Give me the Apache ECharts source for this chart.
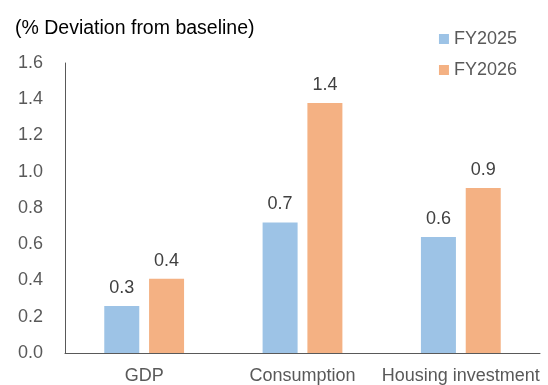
<!DOCTYPE html>
<html>
<head>
<meta charset="utf-8">
<script src="https://cdn.jsdelivr.net/npm/echarts@6/dist/echarts.min.js"></script>
<style>
html,body{margin:0;padding:0;background:#fff;}
#main{width:548px;height:385px;}
</style>
</head>
<body>
<div id="main"></div>
<script>
var categories = ['GDP', 'Consumption', 'Housing investment'];
var fy2025 = [0.26, 0.72, 0.64];
var fy2026 = [0.41, 1.38, 0.91];

var font = '"Liberation Sans", Arial, sans-serif';
var chart = echarts.init(document.getElementById('main'));

function lbl(p){ return p.value.toFixed(1); }

chart.setOption({
    animation:false,
    title:{text:'(% Deviation from baseline)',left:10,top:14,
        textStyle:{fontFamily:font,fontSize:19.5,fontWeight:'normal',color:'#000'}},
    legend:{orient:'vertical',right:26,top:25,itemWidth:10,itemHeight:10,itemGap:13,
        icon:'rect',textStyle:{fontFamily:font,fontSize:18,color:'#595959'},
        data:['FY2025','FY2026']},
    grid:{left:65,right:8,top:63,bottom:31,containLabel:false},
    xAxis:{type:'category',data:categories,
        axisLine:{lineStyle:{color:'#595959',width:1}},
        axisTick:{show:false},
        axisLabel:{fontFamily:font,fontSize:18,color:'#595959',margin:14,interval:0}},
    yAxis:{type:'value',min:0,max:1.6,interval:0.2,
        axisLine:{show:true,lineStyle:{color:'#595959',width:1}},
        axisTick:{show:false},splitLine:{show:false},
        axisLabel:{fontFamily:font,fontSize:18,color:'#595959',margin:22,
            formatter:function(v){return v.toFixed(1);}}},
    series:[
        {name:'FY2025',type:'bar',data:fy2025,barWidth:35,barGap:'28%',
            itemStyle:{color:'#9DC3E6'},
            label:{show:true,position:'top',distance:9,formatter:lbl,
                fontFamily:font,fontSize:18,color:'#404040'}},
        {name:'FY2026',type:'bar',data:fy2026,barWidth:35,
            itemStyle:{color:'#F4B183'},
            label:{show:true,position:'top',distance:9,formatter:lbl,
                fontFamily:font,fontSize:18,color:'#404040'}}
    ]
});
</script>
</body>
</html>
